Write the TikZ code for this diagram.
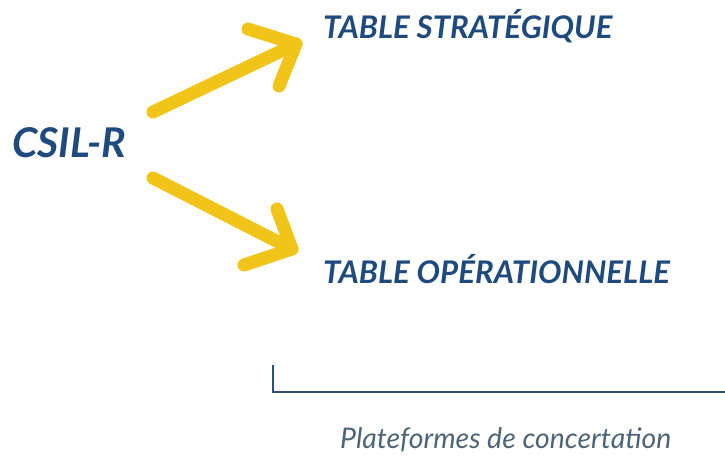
\documentclass[tikz,border=0pt]{standalone}
\usepackage{fontspec}
\setmainfont{Lato}
\definecolor{navy}{HTML}{1F4A7E}
\definecolor{gold}{HTML}{F0C419}
\definecolor{linec}{HTML}{2B4F7E}
\definecolor{greyblue}{HTML}{4D6576}
\begin{document}
\begin{tikzpicture}[x=1pt,y=-1pt,
  title/.style={font=\fontsize{31.2}{31.2}\selectfont\bfseries\itshape, text=navy, inner sep=0pt, anchor=base west},
  yarrow/.style={draw=gold, line width=13pt, line cap=round, line join=round}]
\useasboundingbox (0,0) rectangle (725,455);
\node[title, font=\fontsize{41}{41}\selectfont\bfseries\itshape] (csil) at (12,157) {CSIL-R};
\node[title] (strat) at (323,38) {TABLE STRATÉGIQUE};
\node[title] (oper) at (323,283) {TABLE OPÉRATIONNELLE};
\node[font=\fontsize{28.4}{28.4}\selectfont\itshape, text=greyblue, inner sep=0pt, anchor=base west] (plat) at (340,448) {Plateformes de concertation};
\coordinate (s1) at (153,112);
\coordinate (t1) at (296,44);
\coordinate (a1) at (248,29);
\coordinate (b1) at (279,86);
\coordinate (s2) at (153,178);
\coordinate (t2) at (292,249);
\coordinate (a2) at (277,209);
\coordinate (b2) at (244,265);
\draw[yarrow] (s1) -- (t1);
\draw[yarrow] (a1) -- (t1) -- (b1);
\draw[yarrow] (s2) -- (t2);
\draw[yarrow] (a2) -- (t2) -- (b2);
\coordinate (v) at (273,365);
\coordinate (c) at (273,392);
\coordinate (e) at (725,392);
\draw[linec, line width=2.3pt] (v) -- (c) -- (e);
\end{tikzpicture}
\end{document}
